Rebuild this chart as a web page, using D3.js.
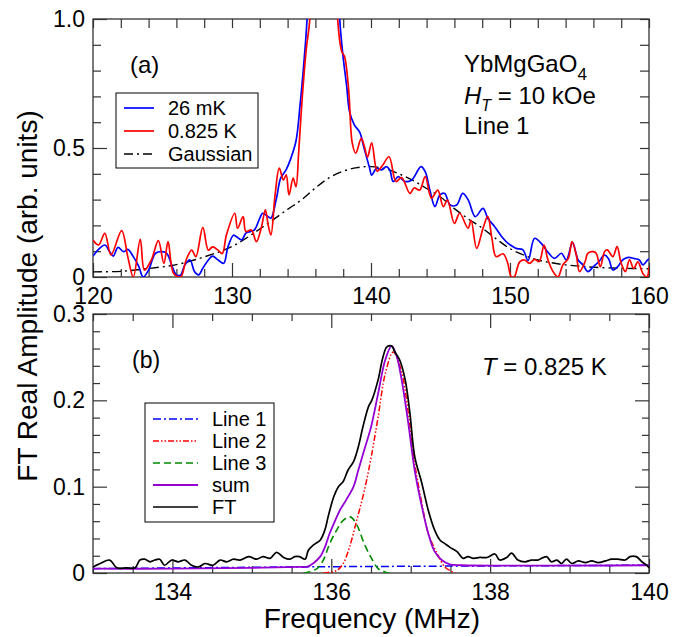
<!DOCTYPE html>
<html>
<head>
<meta charset="utf-8">
<script src="https://cdn.jsdelivr.net/npm/d3@7"></script>
<style>
body{margin:0;background:#fff}
svg{display:block}
</style>
</head>
<body>
<svg></svg>
<script>
// ---- data ----
// panel (a): frequency (MHz), amplitude (arb. units)
const blue26mK = [[120.0,0.081],[120.4,0.107],[120.86,0.124],[121.2,0.098],[121.46,0.081],[121.8,0.115],[122.2,0.098],[122.5,0.107],[122.9,0.079],[123.3,0.040],[123.6,0.0],[124.0,0.027],[124.5,0.092],[124.94,0.098],[125.3,0.092],[125.7,0.040],[126.0,0.008],[126.3,0.008],[126.6,0.046],[126.98,0.066],[127.3,0.021],[127.6,0.008],[127.9,0.034],[128.3,0.066],[128.6,0.081],[129.0,0.066],[129.4,0.053],[129.7,0.115],[130.1,0.162],[130.3,0.157],[130.7,0.144],[131.0,0.170],[131.3,0.176],[131.6,0.182],[132.0,0.228],[132.2,0.247],[132.6,0.234],[132.8,0.228],[133.2,0.305],[133.5,0.383],[133.9,0.416],[134.2,0.455],[134.6,0.526],[134.9,0.668],[135.2,0.849],[135.4,1.0],[135.8,1.6],[136.6,2.5],[137.4,1.6],[137.75,1.0],[138.0,0.85],[138.25,0.74],[138.46,0.64],[138.8,0.59],[139.2,0.56],[139.5,0.5],[139.9,0.422],[140.05,0.395],[140.4,0.421],[140.77,0.415],[141.1,0.428],[141.35,0.415],[141.6,0.370],[141.97,0.389],[142.45,0.370],[142.93,0.376],[143.6,0.428],[143.9,0.408],[144.26,0.331],[144.6,0.273],[144.96,0.318],[145.3,0.324],[145.7,0.279],[146.16,0.279],[146.6,0.324],[147.0,0.298],[147.5,0.234],[148.06,0.266],[148.4,0.228],[148.9,0.195],[149.5,0.150],[149.86,0.130],[150.2,0.118],[150.5,0.110],[150.93,0.105],[151.3,0.064],[151.77,0.150],[152.25,0.130],[152.7,0.098],[153.2,0.072],[153.7,0.092],[154.05,0.066],[154.5,0.133],[154.9,0.066],[155.25,0.047],[155.6,0.021],[156.0,0.040],[156.4,0.060],[156.8,0.085],[157.1,0.070],[157.4,0.027],[157.75,0.040],[158.1,0.066],[158.5,0.076],[158.9,0.072],[159.3,0.066],[159.56,0.047],[159.9,0.066],[160.0,0.07]]
const red0825K = [[120.0,0.143],[120.4,0.124],[120.85,0.169],[121.3,0.086],[122.06,0.180],[122.5,0.079],[122.9,0.0],[123.4,0.146],[123.7,0.027],[124.2,0.066],[124.7,0.141],[125.1,0.053],[125.4,0.137],[125.8,0.014],[126.3,0.0],[126.7,0.066],[127.1,0.104],[127.4,0.079],[127.9,0.192],[128.3,0.104],[128.6,0.117],[129.0,0.104],[129.3,0.091],[129.6,0.163],[130.2,0.247],[130.4,0.189],[130.8,0.234],[131.0,0.176],[131.4,0.182],[131.75,0.137],[132.1,0.189],[132.4,0.260],[132.6,0.202],[132.8,0.163],[133.1,0.318],[133.4,0.422],[133.7,0.376],[133.9,0.396],[134.1,0.318],[134.4,0.383],[134.6,0.350],[134.8,0.486],[135.05,0.693],[135.35,0.887],[135.6,1.0],[136.0,1.7],[136.7,2.6],[137.3,1.7],[137.6,1.0],[137.9,0.873],[138.1,0.854],[138.4,0.72],[138.65,0.52],[138.9,0.48],[139.3,0.537],[139.5,0.511],[139.75,0.465],[140.05,0.52],[140.45,0.41],[140.8,0.43],[141.3,0.466],[141.8,0.37],[142.2,0.385],[142.8,0.324],[143.1,0.345],[143.5,0.337],[143.9,0.389],[144.35,0.305],[144.8,0.337],[145.2,0.273],[145.5,0.298],[146.0,0.208],[146.38,0.247],[146.98,0.189],[147.2,0.22],[147.6,0.111],[148.06,0.189],[148.4,0.235],[148.7,0.15],[149.0,0.079],[149.5,0.09],[149.8,0.06],[150.1,0.0],[150.3,0.0],[150.7,0.059],[151.05,0.066],[151.4,0.053],[151.77,0.068],[152.1,0.060],[152.45,0.124],[152.7,0.072],[153.1,0.021],[153.45,0.0],[153.8,0.047],[154.2,0.072],[154.46,0.137],[154.77,0.085],[155.0,0.021],[155.4,0.059],[155.6,0.092],[156.0,0.098],[156.2,0.092],[156.5,0.040],[156.8,0.098],[157.0,0.105],[157.4,0.079],[157.7,0.118],[158.0,0.053],[158.3,0.021],[158.6,0.066],[158.9,0.033],[159.2,0.059],[159.56,0.014],[159.85,0.0],[160.0,0.04]]
const gaussA = [[120,0.02],[122,0.022],[124,0.033],[126,0.048],[128,0.078],[130,0.118],[132,0.186],[134,0.262],[135,0.299],[136,0.345],[137,0.385],[138,0.41],[139,0.424],[140,0.428],[141,0.42],[142,0.40],[143,0.375],[144,0.343],[145,0.31],[146,0.265],[147,0.225],[148,0.19],[149,0.148],[150,0.11],[151,0.085],[152,0.066],[153,0.055],[154,0.047],[155,0.042],[156,0.038],[158,0.034],[160,0.032]]

// panel (b): frequency (MHz), FT real amplitude
const ftB = [[133.0,0.007],[133.09,0.011],[133.21,0.015],[133.3,0.006],[133.42,0.006],[133.53,0.006],[133.59,0.015],[133.65,0.016],[133.72,0.013],[133.78,0.015],[133.84,0.016],[133.9,0.009],[133.99,0.015],[134.07,0.013],[134.16,0.015],[134.24,0.009],[134.33,0.007],[134.41,0.011],[134.51,0.009],[134.6,0.015],[134.68,0.013],[134.77,0.016],[134.85,0.015],[134.96,0.019],[135.06,0.016],[135.14,0.019],[135.23,0.017],[135.31,0.024],[135.4,0.018],[135.48,0.016],[135.54,0.019],[135.6,0.019],[135.67,0.016],[135.71,0.026],[135.77,0.032],[135.86,0.038],[135.92,0.050],[135.96,0.065],[136.03,0.088],[136.09,0.100],[136.15,0.106],[136.21,0.119],[136.28,0.129],[136.34,0.146],[136.4,0.17],[136.47,0.193],[136.51,0.200],[136.59,0.224],[136.65,0.250],[136.7,0.262],[136.76,0.263],[136.8,0.256],[136.86,0.247],[136.93,0.224],[136.99,0.185],[137.05,0.135],[137.14,0.104],[137.22,0.073],[137.3,0.050],[137.37,0.038],[137.43,0.034],[137.49,0.030],[137.58,0.025],[137.66,0.017],[137.72,0.019],[137.79,0.017],[137.87,0.018],[137.96,0.018],[138.06,0.022],[138.12,0.015],[138.21,0.018],[138.27,0.023],[138.35,0.015],[138.44,0.013],[138.52,0.015],[138.6,0.015],[138.71,0.019],[138.77,0.013],[138.84,0.015],[138.9,0.011],[138.96,0.016],[139.03,0.011],[139.11,0.014],[139.2,0.012],[139.28,0.014],[139.36,0.012],[139.45,0.014],[139.53,0.016],[139.61,0.016],[139.7,0.015],[139.76,0.019],[139.84,0.019],[139.91,0.013],[139.97,0.009],[140.0,0.006]]
const sumB = [[133,0.005],[134,0.005],[135,0.006],[135.6,0.007],[135.69,0.007],[135.77,0.011],[135.86,0.019],[135.92,0.030],[135.98,0.046],[136.05,0.061],[136.11,0.073],[136.19,0.085],[136.28,0.100],[136.34,0.119],[136.41,0.141],[136.5,0.169],[136.59,0.208],[136.68,0.247],[136.76,0.263],[136.82,0.252],[136.88,0.227],[136.97,0.173],[137.05,0.119],[137.14,0.077],[137.22,0.046],[137.3,0.025],[137.39,0.015],[137.49,0.010],[137.64,0.009],[140,0.009]]
const line1B = [[133,0.005],[135.5,0.007],[137.5,0.008],[140,0.009]]
const line2B = [[135.9,0.0],[136.07,0.003],[136.15,0.011],[136.23,0.030],[136.32,0.061],[136.41,0.093],[136.5,0.133],[136.59,0.181],[136.68,0.231],[136.78,0.256],[136.88,0.235],[136.97,0.185],[137.05,0.127],[137.14,0.081],[137.22,0.046],[137.33,0.023],[137.43,0.007],[137.51,0.002],[137.6,-0.002]]
const line3B = [[135.65,0.0],[135.82,0.005],[135.9,0.015],[135.98,0.034],[136.07,0.050],[136.15,0.061],[136.24,0.065],[136.32,0.056],[136.41,0.035],[136.5,0.018],[136.59,0.005],[136.68,0.001],[136.8,-0.002]]

// ticks
const xTicksA = [120,130,140,150,160]
const yTicksA = [0,0.5,1.0]
const xTicksB = [134,136,138,140]
const yTicksB = [0,0.1,0.2,0.3]

const legendA = ["26 mK","0.825 K","Gaussian"]
const legendB = ["Line 1","Line 2","Line 3","sum","FT"]

// ---- layout ----
const w = 696
const h = 637
const font = "'Liberation Sans', Arial, Helvetica, sans-serif"
const left = 93, right = 649
const topA = 19, botA = 277
const topB = 314, botB = 573

let svg = d3.select("svg").attr("width", w).attr("height", h).style("font-family", font)

let xA = d3.scaleLinear().domain([120,160]).range([left,right])
let yA = d3.scaleLinear().domain([0,1]).range([botA,topA])
let xB = d3.scaleLinear().domain([133,140]).range([left,right])
let yB = d3.scaleLinear().domain([0,0.3]).range([botB,topB])

// clip areas for the two frames
let defs = svg.append("defs")
defs.append("clipPath").attr("id","clipA").append("rect")
    .attr("x",left).attr("y",topA).attr("width",right-left).attr("height",botA-topA)
defs.append("clipPath").attr("id","clipB").append("rect")
    .attr("x",left).attr("y",topB).attr("width",right-left).attr("height",botB-topB)

// one set of inward ticks on the four sides
let drawAxes = (x, y, top, bot, xMaj, xMin, yMaj, yMin, xFmt, yFmt, shortTR) => {
    let tidy = g => {
        g.select(".domain").remove()
        g.selectAll("line").attr("stroke","#333").attr("stroke-width",1.2)
        g.attr("font-family", font).attr("font-size", 23)
        g.selectAll("text").attr("fill","#000")
    }
    let trMaj = shortTR ? 9 : 14
    let trMin = shortTR ? 9 : 7
    let blMin = shortTR ? 8 : 7

    // bottom
    svg.append("g").attr("transform","translate(0,"+bot+")")
        .call(d3.axisBottom(x).tickValues(xMin).tickSize(-blMin).tickFormat("")).call(tidy)
    svg.append("g").attr("transform","translate(0,"+bot+")")
        .call(d3.axisBottom(x).tickValues(xMaj).tickSize(-14).tickPadding(10.5).tickFormat(xFmt)).call(tidy)
    // top
    svg.append("g").attr("transform","translate(0,"+top+")")
        .call(d3.axisTop(x).tickValues(xMin).tickSize(-trMin).tickFormat("")).call(tidy)
    svg.append("g").attr("transform","translate(0,"+top+")")
        .call(d3.axisTop(x).tickValues(xMaj).tickSize(-trMaj).tickFormat("")).call(tidy)
    // left
    svg.append("g").attr("transform","translate("+left+",0)")
        .call(d3.axisLeft(y).tickValues(yMin).tickSize(-blMin).tickFormat("")).call(tidy)
    svg.append("g").attr("transform","translate("+left+",0)")
        .call(d3.axisLeft(y).tickValues(yMaj).tickSize(-14).tickPadding(8).tickFormat(yFmt)).call(tidy)
    // right
    svg.append("g").attr("transform","translate("+right+",0)")
        .call(d3.axisRight(y).tickValues(yMin).tickSize(-trMin).tickFormat("")).call(tidy)
    svg.append("g").attr("transform","translate("+right+",0)")
        .call(d3.axisRight(y).tickValues(yMaj).tickSize(-trMaj).tickFormat("")).call(tidy)

    svg.append("rect").attr("x",left).attr("y",top).attr("width",right-left).attr("height",bot-top)
        .attr("fill","none").attr("stroke","#333").attr("stroke-width",1.3)
}

let drawLine = (data, x, y, clip, color, width, dash) => {
    let line = d3.line().x(d => x(d[0])).y(d => y(d[1])).curve(d3.curveCatmullRom.alpha(0.5))
    svg.append("path").datum(data)
        .attr("clip-path","url(#"+clip+")")
        .attr("d", line)
        .attr("fill","none")
        .attr("stroke", color)
        .attr("stroke-width", width)
        .attr("stroke-dasharray", dash || null)
        .attr("stroke-linejoin","round")
}

let drawLegend = (names, styles, bx, by, bw, bh, y0, step) => {
    svg.append("rect").attr("x",bx).attr("y",by).attr("width",bw).attr("height",bh)
        .attr("fill","#fff").attr("stroke","#000").attr("stroke-width",1)
    names.forEach((n,i) => {
        let s = styles[i]
        let yy = y0 + i*step
        svg.append("line").attr("x1",bx+8).attr("x2",bx+s.len).attr("y1",yy).attr("y2",yy)
            .attr("stroke",s.color).attr("stroke-width",s.width).attr("stroke-dasharray",s.dash || null)
        svg.append("text").attr("x",bx+s.tx).attr("y",yy+7).attr("font-size",20).text(n)
    })
}

// ---- panel (a) ----
drawAxes(xA, yA, topA, botA, xTicksA, d3.range(122,160,2).filter(v => v%10 != 0),
    yTicksA, d3.range(1,10).map(v => v/10).filter(v => v != 0.5),
    d => d, d => d == 0 ? "0" : d3.format(".1f")(d), true)

drawLine(gaussA, xA, yA, "clipA", "#000", 1.4, "9,4,2,4")
drawLine(blue26mK, xA, yA, "clipA", "#0000ff", 1.7)
drawLine(red0825K, xA, yA, "clipA", "#ff0000", 1.7)

drawLegend(legendA, [
    {color:"#0000ff", width:1.7, len:38, tx:52},
    {color:"#ff0000", width:1.7, len:38, tx:52},
    {color:"#000", width:1.4, dash:"9,4,2,4", len:38, tx:52}
], 116, 93, 142, 75, 108, 23)

svg.append("text").attr("x",130).attr("y",73).attr("font-size",24).text("(a)")

let info = svg.append("g").attr("font-size",24)
let t1 = info.append("text").attr("x",464).attr("y",72)
t1.append("tspan").text("YbMgGaO")
t1.append("tspan").attr("font-size",17).attr("dy",8).text("4")
let t2 = info.append("text").attr("x",464).attr("y",104)
t2.append("tspan").attr("font-style","italic").text("H")
t2.append("tspan").attr("font-style","italic").attr("font-size",16).attr("dy",7).text("T")
t2.append("tspan").attr("dy",-7).text(" = 10 kOe")
info.append("text").attr("x",464).attr("y",134).text("Line 1")

// ---- panel (b) ----
drawAxes(xB, yB, topB, botB, xTicksB, d3.range(133,140,0.5).filter(v => v%2 != 0),
    yTicksB, d3.range(1,15).map(v => v*0.02).filter(v => Math.abs(v*10 - Math.round(v*10)) > 1e-6),
    d => d, d => d == 0 ? "0" : d3.format(".1f")(d), false)

drawLine(line1B, xB, yB, "clipB", "#0000ff", 1.5, "8,3,2,3")
drawLine(line2B, xB, yB, "clipB", "#ff0000", 1.5, "6,2,1.5,2,1.5,2")
drawLine(line3B, xB, yB, "clipB", "#008a00", 1.6, "7,4")
drawLine(sumB, xB, yB, "clipB", "#9400d3", 1.8)
drawLine(ftB, xB, yB, "clipB", "#000", 1.7)

drawLegend(legendB, [
    {color:"#0000ff", width:1.5, dash:"8,3,2,3", len:53, tx:67},
    {color:"#ff0000", width:1.5, dash:"6,2,1.5,2,1.5,2", len:53, tx:67},
    {color:"#008a00", width:1.6, dash:"7,4", len:53, tx:67},
    {color:"#9400d3", width:1.8, len:53, tx:67},
    {color:"#000", width:1.7, len:53, tx:67}
], 145, 403, 129, 119, 419, 22)

svg.append("text").attr("x",132).attr("y",368).attr("font-size",23).text("(b)")

let t3 = svg.append("text").attr("x",482).attr("y",375).attr("font-size",24)
t3.append("tspan").attr("font-style","italic").text("T")
t3.append("tspan").text(" = 0.825 K")

// ---- axis titles ----
svg.append("text").attr("x",372).attr("y",628).attr("text-anchor","middle").attr("font-size",28)
    .text("Frequency (MHz)")
svg.append("text").attr("transform","translate(37,296) rotate(-90)").attr("text-anchor","middle")
    .attr("font-size",28).text("FT Real Amplitude (arb. units)")
</script>
</body>
</html>
